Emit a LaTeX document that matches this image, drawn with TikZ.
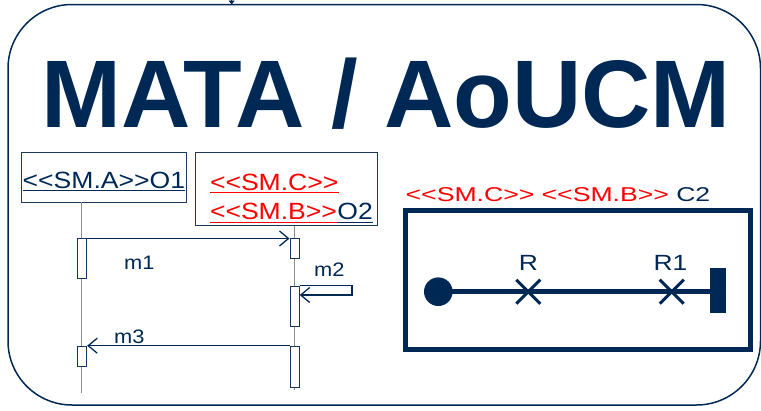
\documentclass[tikz,border=0pt]{standalone}
\usepackage{fontspec}
\setmainfont{Liberation Sans}
\usetikzlibrary{arrows.meta,calc}
\definecolor{navy}{RGB}{0,40,85}
\definecolor{lifegray}{RGB}{140,140,140}
\newcommand\LLt{<\kern0pt<}
\newcommand\RRt{>\kern0pt>}
\newcommand\sq[2]{\scalebox{#1}[1]{#2}}
\tikzset{
  frame/.style={draw=navy, line width=1.5pt, rounded corners=64pt},
  txt/.style={inner sep=0pt, anchor=base west},
  lbl/.style={font=\fontsize{23.5}{28}\selectfont},
  mlbl/.style={txt, text=navy, font=\fontsize{19.5}{23}\selectfont},
  uline/.style={line width=1.4pt},
  objbox/.style={draw=navy!80!gray, line width=0.9pt},
  life/.style={draw=lifegray, line width=0.8pt},
  bar/.style={draw=navy!85!gray, fill=white, line width=0.9pt, inner sep=0pt, minimum width=9.3pt, anchor=north west},
  msg/.style={draw=navy, line width=1.1pt, -{Straight Barb[length=9pt,width=15pt,line width=1.3pt]}},
  ucmbox/.style={draw=navy, line width=5pt},
  ucmpath/.style={draw=navy, line width=4.7pt},
  xmark/.style={draw=navy, line width=3pt},
}
\begin{document}
\begin{tikzpicture}[x=1pt,y=-1pt]
\useasboundingbox (0,0) rectangle (761,410);
% outer frame
\draw[frame] (8,4.5) rectangle (760.5,405);
\coordinate (topin) at (231.7,0);
\coordinate (topend) at (231.7,4.5);
\draw[navy, line width=0.8pt, -{Triangle[length=4pt,width=6pt]}] (topin) -- (topend);
% title
\node[inner sep=0pt, anchor=base, text=navy, font=\fontsize{96}{100}\selectfont\bfseries] (title) at (386.2,127.7) {MATA / AoUCM};

% ---------- sequence diagram ----------
\draw[objbox] (21.7,152) rectangle (186.7,202);
\draw[objbox] (195.7,152) rectangle (377.7,225.7);
\node[txt, lbl, text=navy] (o1) at (22.5,188) {\sq{1.13}{\LLt SM.A\RRt O1}};
\draw[uline, navy] ($(o1.base west)+(0,2.7)$) -- ($(o1.base east)+(0,2.7)$);
\node[txt, lbl, text=red] (smc) at (209.8,190) {\sq{1.13}{\LLt SM.C\RRt}};
\draw[uline, red] ($(smc.base west)+(0,2.7)$) -- ($(smc.base east)+(0,2.7)$);
\node[txt, lbl, text=red] (smb) at (209.8,219) {\sq{1.13}{\LLt SM.B\RRt}};
\node[txt, lbl, text=navy] (o2) at (smb.base east) {\sq{1.13}{O2}};
\draw[uline, red] ($(smb.base west)+(0,3.2)$) -- ($(smb.base east)+(0,3.2)$);
\draw[uline, navy] ($(o2.base west)+(0,3.2)$) -- ($(o2.base east)+(0,3.2)$);

% lifelines
\coordinate (l1top) at (81.7,202);
\coordinate (l1bot) at (81.7,393);
\coordinate (l2top) at (294.2,225.7);
\coordinate (l2bot) at (294.2,390);
\draw[life] (l1top) -- (l1bot);
\draw[life] (l2top) -- (l2bot);

% activation bars
\node[bar, minimum height=40.6pt] (a1) at (77,237.7) {};
\node[bar, minimum height=20pt] (a2) at (77,345.7) {};
\node[bar, minimum height=20pt] (b1) at (289.5,237.7) {};
\node[bar, minimum height=40pt] (b2) at (289.5,285.7) {};
\node[bar, minimum height=41pt] (b3) at (289.5,345.7) {};

% messages
\draw[msg] ($(a1.north east)+(0,0.8)$) -- ($(b1.north west)+(0,0.8)$);
\coordinate (m2a) at (352,285.7);
\coordinate (m2b) at (352,295);
\draw[msg] (b2.north east) -- (m2a) -- (m2b) -- (b2.east |- m2b);
\draw[msg] (b3.north west) -- (a2.north east);
\node[mlbl] (m1) at (124,269.2) {\sq{1.12}{m1}};
\node[mlbl] (m2) at (314,276.9) {\sq{1.12}{m2}};
\node[mlbl] (m3) at (114,343.5) {\sq{1.12}{m3}};

% ---------- UCM ----------
\node[txt, font=\fontsize{20}{24}\selectfont] (c2lbl) at (405.5,201.7) {\sq{1.33}{\textcolor{red}{\LLt SM.C\RRt{} \LLt SM.B\RRt}\ \textcolor{navy}{C2}}};
\draw[ucmbox] (405.3,210.3) rectangle (750,349);
\coordinate (start) at (438.3,291.7);
\coordinate (r) at (528.3,291.7);
\coordinate (r1) at (671.7,291.7);
\coordinate (endp) at (712,291.7);
\draw[ucmpath] (start) -- (endp);
\fill[navy] (start) circle (14.3pt);
\fill[navy] (710,268.3) rectangle (726,313.3);
\draw[xmark] ($(r)+(-12,-12)$) -- ($(r)+(12,12)$);
\draw[xmark] ($(r)+(-12,12)$) -- ($(r)+(12,-12)$);
\draw[xmark] ($(r1)+(-12,-12)$) -- ($(r1)+(12,12)$);
\draw[xmark] ($(r1)+(-12,12)$) -- ($(r1)+(12,-12)$);
\node[inner sep=0pt, anchor=base, text=navy, font=\fontsize{22}{26}\selectfont] (rl) at (528.5,270.7) {\sq{1.2}{R}};
\node[inner sep=0pt, anchor=base, text=navy, font=\fontsize{22}{26}\selectfont] (r1l) at (670.5,270.7) {\sq{1.2}{R1}};
\end{tikzpicture}
\end{document}
